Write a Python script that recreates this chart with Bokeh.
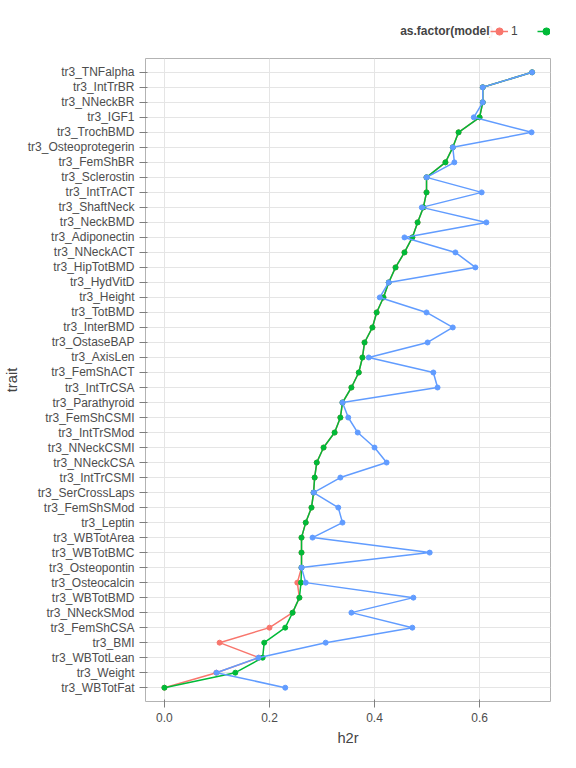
from bokeh.plotting import figure
from bokeh.models import Legend, LegendItem, FactorRange, Range1d, Label
from bokeh.layouts import column
from bokeh.embed import file_html
from bokeh.resources import INLINE

traits = ["tr3_TNFalpha", "tr3_IntTrBR", "tr3_NNeckBR", "tr3_IGF1", "tr3_TrochBMD",
          "tr3_Osteoprotegerin", "tr3_FemShBR", "tr3_Sclerostin", "tr3_IntTrACT", "tr3_ShaftNeck",
          "tr3_NeckBMD", "tr3_Adiponectin", "tr3_NNeckACT", "tr3_HipTotBMD", "tr3_HydVitD",
          "tr3_Height", "tr3_TotBMD", "tr3_InterBMD", "tr3_OstaseBAP", "tr3_AxisLen",
          "tr3_FemShACT", "tr3_IntTrCSA", "tr3_Parathyroid", "tr3_FemShCSMI", "tr3_IntTrSMod",
          "tr3_NNeckCSMI", "tr3_NNeckCSA", "tr3_IntTrCSMI", "tr3_SerCrossLaps", "tr3_FemShSMod",
          "tr3_Leptin", "tr3_WBTotArea", "tr3_WBTotBMC", "tr3_Osteopontin", "tr3_Osteocalcin",
          "tr3_WBTotBMD", "tr3_NNeckSMod", "tr3_FemShCSA", "tr3_BMI", "tr3_WBTotLean",
          "tr3_Weight", "tr3_WBTotFat"]

model2 = [0.70, 0.606, 0.606, 0.600, 0.560, 0.549, 0.535, 0.499, 0.499, 0.493,
          0.482, 0.472, 0.457, 0.440, 0.427, 0.417, 0.404, 0.396, 0.381, 0.377,
          0.370, 0.356, 0.339, 0.335, 0.324, 0.303, 0.290, 0.286, 0.284, 0.280,
          0.269, 0.261, 0.261, 0.261, 0.260, 0.257, 0.244, 0.230, 0.190, 0.187,
          0.135, 0.0]

model1 = list(model2)
model1[34] = 0.253
model1[37] = 0.200
model1[38] = 0.105
model1[39] = 0.180
model1[40] = 0.099

model3 = [0.70, 0.606, 0.606, 0.589, 0.699, 0.549, 0.552, 0.499, 0.604, 0.490,
          0.613, 0.457, 0.554, 0.592, 0.427, 0.410, 0.499, 0.549, 0.501, 0.389,
          0.512, 0.520, 0.339, 0.350, 0.368, 0.400, 0.423, 0.335, 0.284, 0.331,
          0.339, 0.282, 0.505, 0.261, 0.269, 0.474, 0.356, 0.472, 0.307, 0.179,
          0.099, 0.230]

colors = ["#F8766D", "#00BA38", "#619CFF"]
labels = ["1", "2", "3"]

p = figure(width=560, height=700, output_backend="svg", toolbar_location=None,
           y_range=FactorRange(*list(reversed(traits)), range_padding=0.02),
           x_range=Range1d(-0.036, 0.735), min_border_left=10, min_border_right=10,
           min_border_top=10)
p.background_fill_color = "white"
p.outline_line_color = "#b3b3b3"
p.xgrid.grid_line_color = "#e5e5e5"
p.ygrid.grid_line_color = "#e5e5e5"
p.xaxis.ticker = [0.0, 0.2, 0.4, 0.6]
p.xaxis.major_label_overrides = {0.0: "0.0", 0.2: "0.2", 0.4: "0.4", 0.6: "0.6"}
p.xaxis.minor_tick_line_color = None
for ax in (p.xaxis, p.yaxis):
    ax.axis_line_color = None
    ax.major_tick_line_color = "#7f7f7f"
    ax.major_label_text_color = "#4d4d4d"
    ax.major_label_text_font = "Liberation Sans"
    ax.major_label_text_font_size = "9pt"
    ax.axis_label_text_font = "Liberation Sans"
    ax.axis_label_text_font_style = "normal"
    ax.axis_label_text_font_size = "11pt"
p.xaxis.axis_label = "h2r"
p.yaxis.axis_label = "trait"

for vals, c in zip([model1, model2, model3], colors):
    p.line(vals, traits, line_color=c, line_width=1.5)
    p.scatter(vals, traits, size=5, color=c)

# legend strip on top, its glyphs sit outside the visible range
lg = figure(width=560, height=48, output_backend="svg", toolbar_location=None,
            x_range=Range1d(0, 1), y_range=Range1d(0, 1), min_border=0)
lg.axis.visible = False
lg.grid.visible = False
lg.outline_line_color = None
items = []
for c, lab in zip(colors, labels):
    l = lg.line([5, 6], [5, 6], line_color=c, line_width=1.5)
    s = lg.scatter([5], [5], size=5, color=c)
    items.append(LegendItem(label=lab, renderers=[l, s]))
leg = Legend(items=items, orientation="horizontal", location=(345, 8),
             label_text_font="Liberation Sans", label_text_font_size="9pt",
             border_line_color=None, glyph_width=18, glyph_height=18,
             spacing=6, padding=2, label_standoff=3)
lg.add_layout(leg, "center")
lg.add_layout(Label(x=348, y=18, x_units="screen", y_units="screen",
                    text="as.factor(model)", text_align="right", text_baseline="middle",
                    text_font="Liberation Sans", text_font_size="9pt",
                    text_font_style="bold"))

open("out.html", "w").write(file_html(column(lg, p), INLINE))
